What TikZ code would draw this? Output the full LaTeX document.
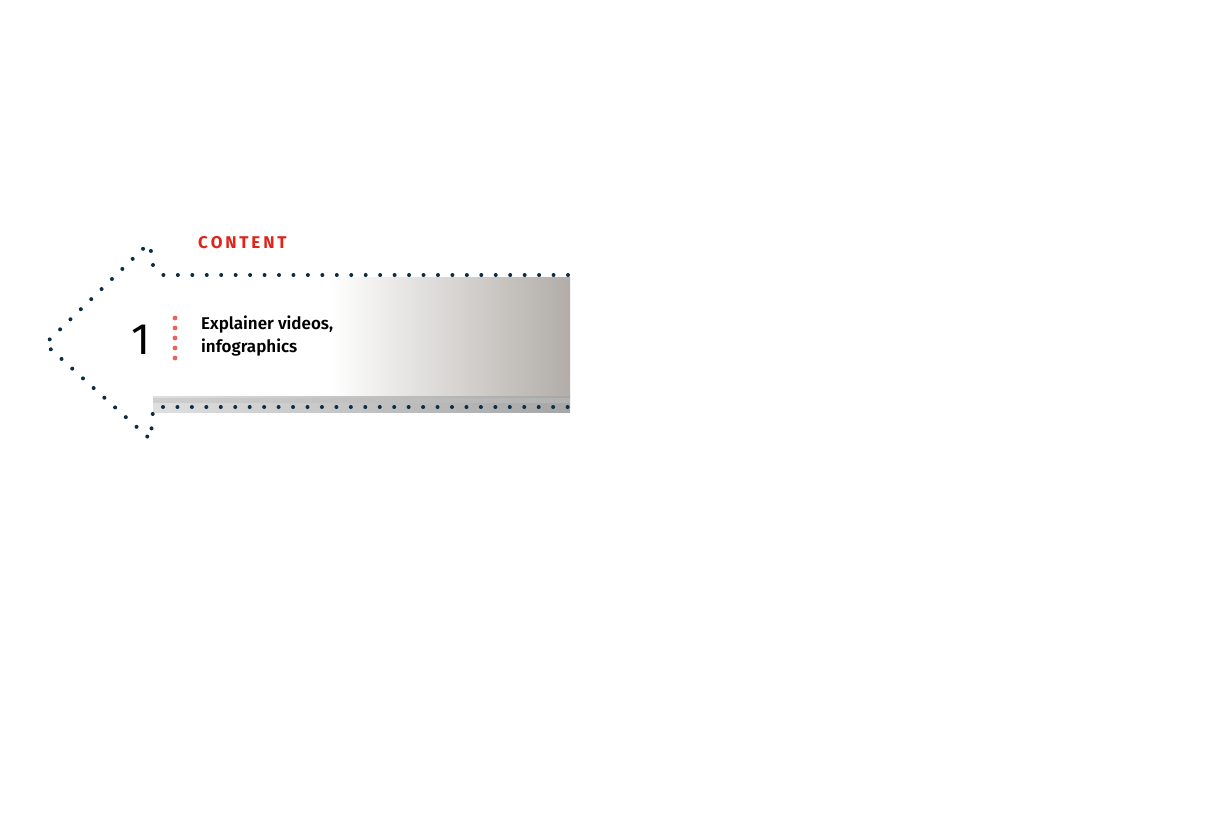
\documentclass[tikz,border=0pt]{standalone}
\usepackage{fontspec}
\setmainfont{Fira Sans}
\newfontfamily\fsb{Fira Sans SemiBold}
\usetikzlibrary{calc}
\definecolor{navy}{RGB}{10,45,70}
\definecolor{redc}{RGB}{225,35,25}
\definecolor{pink}{RGB}{232,100,90}
\definecolor{grayd}{RGB}{178,173,168}
\tikzset{dots/.style={navy,line width=4pt,line cap=round,dash pattern=on 0pt off 14.45pt},
 txt/.style={font=\fsb\fontsize{17}{23}\selectfont,anchor=north west,align=left,inner sep=0pt}}
\begin{document}
\begin{tikzpicture}[x=1pt,y=-1pt]
\useasboundingbox (0,0) rectangle (1221,831);
\fill[left color=white,right color=grayd] (330,277) rectangle (570,396);
\fill[left color=gray!25,right color=gray!70] (153,396) rectangle (570,412);
\fill[gray!50,opacity=0.5] (153,398) rectangle (570,403);
\coordinate (t1) at (568,275);
\coordinate (t2) at (163,275);
\draw[dots] (t1) -- (t2);
\draw[dots] (153,265) -- (153,256) -- (148,244) -- (45,344) -- (150,439) -- (152,425) -- (153,410);
\draw[dots] (163,407) -- (568,407);
\node[font=\bfseries\fontsize{17}{17}\selectfont,text=redc,anchor=west,inner sep=0pt] (c) at (198,243) {C\,O\,N\,T\,E\,N\,T};
\node[font=\fontsize{44}{44}\selectfont,anchor=center,inner sep=0pt] (n) at (141,340) {1};
\foreach \i in {0,...,4} \fill[pink] (175,318+10*\i) circle (2.4);
\node[txt] (t) at (201,316) {Explainer videos,\\infographics};
\end{tikzpicture}
\end{document}
